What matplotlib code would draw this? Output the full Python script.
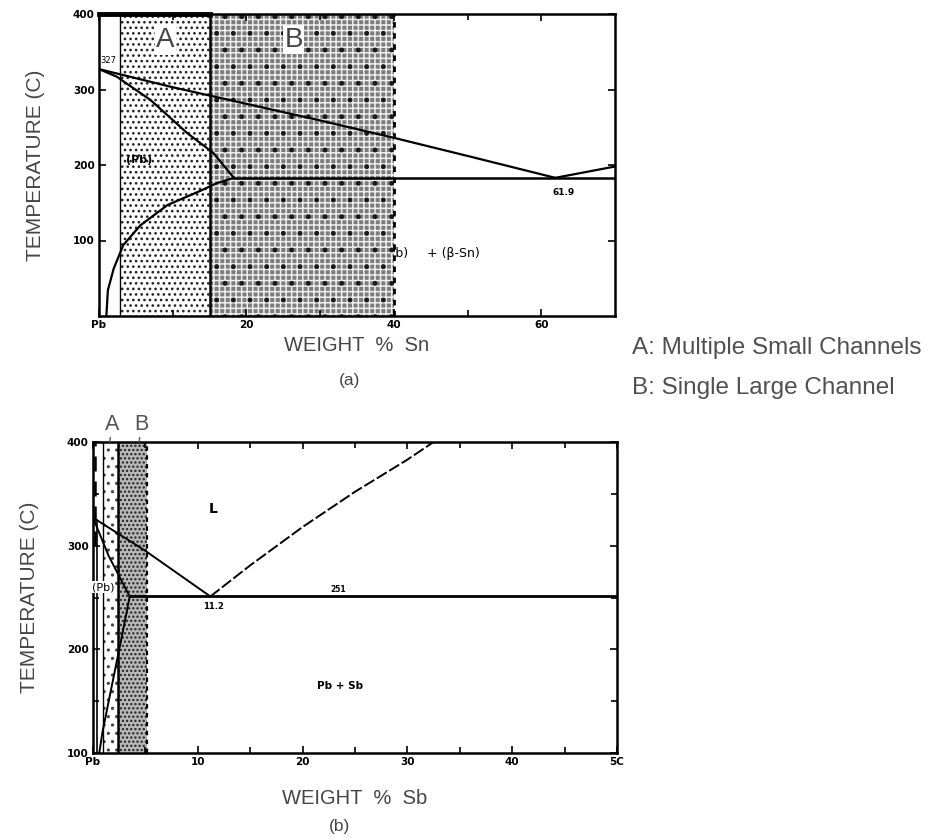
import matplotlib
matplotlib.use("Agg")
import matplotlib.pyplot as plt
from matplotlib.patches import Rectangle

# ---------------- data: (a) Pb-Sn ----------------
sn_liq_left_x = [0, 10, 20, 30, 40, 50, 61.9]
sn_liq_left_t = [327, 303, 281, 259, 236, 212, 183]
sn_liq_right_x = [61.9, 70]
sn_liq_right_t = [183, 198]
sn_solidus_x = [0, 2.4, 7, 12, 15.5, 18.3]
sn_solidus_t = [327, 317, 286, 242, 216, 183]
sn_solvus_x = [18.3, 16, 13.8, 9.3, 5.6, 3.3, 2.0, 1.2, 1.0]
sn_solvus_t = [183, 176, 166, 147, 120, 94, 63, 34, 0]
sn_eutectic_x = [18.3, 70]
sn_eutectic_t = [183, 183]
sn_region_a = [2.9, 15.0]
sn_region_b = [15.0, 40.0]
sn_xticks = [0, 20, 40, 60]
sn_xticklabels = ["Pb", "20", "40", "60"]
sn_yticks = [100, 200, 300, 400]
sn_yticklabels = ["100", "200", "300", "400"]

# ---------------- data: (b) Pb-Sb ----------------
sb_liq_left_x = [0, 5, 11.2]
sb_liq_left_t = [327, 295, 251]
sb_liq_right_x = [11.2, 15, 20, 25, 30, 32.5]
sb_liq_right_t = [251, 281, 318, 352, 383, 400]
sb_solidus_x = [0, 1.5, 3.5]
sb_solidus_t = [327, 290, 251]
sb_solvus_x = [3.5, 3.0, 2.2, 1.5, 0.9, 0.6]
sb_solvus_t = [251, 225, 185, 150, 120, 100]
sb_eutectic_x = [3.5, 50]
sb_eutectic_t = [251, 251]
sb_region_a = [1.0, 2.4]
sb_region_b = [2.4, 5.2]
sb_xticks = [0, 10, 20, 30, 40, 50]
sb_xticklabels = ["Pb", "10", "20", "30", "40", "5C"]
sb_yticks = [100, 200, 300, 400]
sb_yticklabels = ["100", "200", "300", "400"]

legend_lines = ["A: Multiple Small Channels", "B: Single Large Channel"]

plt.rcParams['font.family'] = ['Liberation Sans', 'DejaVu Sans']
plt.rcParams['hatch.linewidth'] = 1.1

W, H = 948, 840
fig = plt.figure(figsize=(W / 100, H / 100), dpi=100)

def px_axes(l, t, r, b):
    return fig.add_axes([l / W, 1 - b / H, (r - l) / W, (b - t) / H])

label_color = '#454545'
tick_font = dict(family='DejaVu Sans', weight='bold', size=7.5)

def style(ax, xt, xtl, yt, ytl, xminor, yminor):
    ax.set_xticks(xt)
    ax.set_xticklabels(xtl, **tick_font)
    ax.set_yticks(yt)
    ax.set_yticklabels(ytl, **tick_font)
    ax.set_xticks(xminor, minor=True)
    ax.set_yticks(yminor, minor=True)
    ax.tick_params(which='both', direction='in', top=True, right=True,
                   length=5, width=1.2, pad=3)
    ax.tick_params(which='minor', length=4)
    for s in ax.spines.values():
        s.set_linewidth(1.8)

# ================= (a) =================
ax1 = px_axes(99, 14, 615, 316)
ax1.set_xlim(0, 70)
ax1.set_ylim(0, 400)
# region A: stippled
ax1.add_patch(Rectangle((sn_region_a[0], 0), sn_region_a[1] - sn_region_a[0], 400,
                        facecolor='white', edgecolor='#222222', hatch='...', lw=0, zorder=1))
# region B: gray with white grid and dots
ax1.add_patch(Rectangle((sn_region_b[0], 0), sn_region_b[1] - sn_region_b[0], 400,
                        facecolor='#7c7c7c', edgecolor='#eeeeee', hatch='+++', lw=0, zorder=1))
ax1.add_patch(Rectangle((sn_region_b[0], 0), sn_region_b[1] - sn_region_b[0], 400,
                        facecolor='none', edgecolor='#1a1a1a', hatch='.', lw=0, zorder=1.1))
ax1.plot([sn_region_a[0]] * 2, [0, 400], color='black', lw=1.0, zorder=3)
ax1.plot([sn_region_a[1]] * 2, [0, 400], color='black', lw=1.8, zorder=3)
ax1.plot([sn_region_b[1]] * 2, [0, 400], color='black', lw=2.0, ls=(0, (2, 2)), zorder=3)
ax1.plot([0, sn_region_a[1]], [400, 400], color='black', lw=3.5, zorder=4, clip_on=False)

ax1.text(42.0, 83, "(Pb)", fontsize=9, ha='right', va='center', family='DejaVu Sans', zorder=0.5)
ax1.text(44.5, 83, "+ (β-Sn)", fontsize=9, ha='left', va='center', family='DejaVu Sans', zorder=2)

ax1.plot(sn_liq_left_x, sn_liq_left_t, color='black', lw=1.6, zorder=3)
ax1.plot(sn_liq_right_x, sn_liq_right_t, color='black', lw=1.6, zorder=3)
ax1.plot(sn_solidus_x, sn_solidus_t, color='black', lw=1.6, zorder=3)
ax1.plot(sn_solvus_x, sn_solvus_t, color='black', lw=1.6, zorder=3)
ax1.plot(sn_eutectic_x, sn_eutectic_t, color='black', lw=1.8, zorder=3)

ax1.text(9.0, 365, "A", fontsize=20, ha='center', va='center', color='#444444', zorder=5,
         bbox=dict(facecolor='white', edgecolor='none', pad=1))
ax1.text(26.4, 366, "B", fontsize=20, ha='center', va='center', color='#444444', zorder=5,
         bbox=dict(facecolor='white', edgecolor='none', pad=1))
ax1.text(5.4, 207, "(Pb)", fontsize=8, weight='bold', ha='center', va='center', family='DejaVu Sans', zorder=4)
ax1.text(1.3, 338, "327", fontsize=6, ha='center', va='center', family='DejaVu Sans', zorder=4)
ax1.text(63.0, 164, "61.9", fontsize=6.5, weight='bold', ha='center', va='center', family='DejaVu Sans', zorder=4)

style(ax1, sn_xticks, sn_xticklabels, sn_yticks, sn_yticklabels, [10, 30, 50], [])
ax1.set_xlabel("WEIGHT  %  Sn", fontsize=14.5, color=label_color, labelpad=4)
ax1.set_ylabel("TEMPERATURE (C)", fontsize=15, color=label_color, labelpad=20)
fig.text(350 / W, 1 - 381 / H, "(a)", fontsize=12.5, color=label_color, ha='center', va='center')

# ================= (b) =================
ax2 = px_axes(93, 442, 617, 753)
ax2.set_xlim(0, 50)
ax2.set_ylim(100, 400)
ax2.add_patch(Rectangle((sb_region_a[0], 100), sb_region_a[1] - sb_region_a[0], 300,
                        facecolor='white', edgecolor='#444444', hatch='..', lw=0, zorder=1))
ax2.add_patch(Rectangle((sb_region_b[0], 100), sb_region_b[1] - sb_region_b[0], 300,
                        facecolor='#b8b8b8', edgecolor='#222222', hatch='....', lw=0, zorder=1))
ax2.plot([sb_region_a[0]] * 2, [100, 400], color='black', lw=1.0, zorder=3)
ax2.plot([sb_region_a[1]] * 2, [100, 400], color='black', lw=1.8, zorder=3)
ax2.plot([sb_region_b[1]] * 2, [100, 400], color='black', lw=1.6, ls=(0, (2, 2)), zorder=3)
ax2.plot([0.35, 0.35], [100, 325], color='black', lw=1.2, zorder=3)
ax2.plot([0.15, 0.15], [300, 400], color='black', lw=1.8, ls=(0, (6, 4)), zorder=3)

ax2.plot(sb_liq_left_x, sb_liq_left_t, color='black', lw=1.4, zorder=3)
ax2.plot(sb_liq_right_x, sb_liq_right_t, color='black', lw=1.4, ls=(0, (6, 1.5)), zorder=3)
ax2.plot(sb_solidus_x, sb_solidus_t, color='black', lw=1.4, zorder=3)
ax2.plot(sb_solvus_x, sb_solvus_t, color='black', lw=1.4, zorder=3)
ax2.plot(sb_eutectic_x, sb_eutectic_t, color='black', lw=2.0, zorder=3)

ax2.text(11.5, 335, "L", fontsize=10, weight='bold', ha='center', va='center', family='DejaVu Sans')
ax2.text(23.6, 165, "Pb + Sb", fontsize=7.5, weight='bold', ha='center', va='center', family='DejaVu Sans')
ax2.text(11.5, 241, "11.2", fontsize=6, weight='bold', ha='center', va='center', family='DejaVu Sans')
ax2.text(23.4, 258, "251", fontsize=5.5, weight='bold', ha='center', va='center', family='DejaVu Sans')
ax2.text(1.0, 260, "(Pb)", fontsize=8, ha='center', va='center', family='DejaVu Sans', zorder=4,
         bbox=dict(facecolor='white', edgecolor='none', pad=0.5))

style(ax2, sb_xticks, sb_xticklabels, sb_yticks, sb_yticklabels,
      [5, 15, 25, 35, 45], [150, 250, 350])
ax2.set_xlabel("WEIGHT  %  Sb", fontsize=14.5, color=label_color, labelpad=16)
ax2.set_ylabel("TEMPERATURE (C)", fontsize=15, color=label_color, labelpad=20)
fig.text(340 / W, 1 - 826 / H, "(b)", fontsize=12.5, color=label_color, ha='center', va='center')

# A / B markers above (b)
for lab, xv in zip(["A", "B"], [1.6, 4.4]):
    ax2.annotate(lab, xy=(xv, 400), xytext=(xv + 0.2, 407), textcoords='data',
                 fontsize=15.5, color='#555555', ha='center', va='bottom',
                 annotation_clip=False,
                 arrowprops=dict(arrowstyle='-', color='#555555', lw=1.0, shrinkA=0, shrinkB=0))

# legend text
fig.text(632 / W, 1 - 348 / H, legend_lines[0], fontsize=17.5, color='#505050', ha='left', va='center')
fig.text(632 / W, 1 - 388 / H, legend_lines[1], fontsize=17.5, color='#505050', ha='left', va='center')

fig.savefig("out.png", dpi=100)
